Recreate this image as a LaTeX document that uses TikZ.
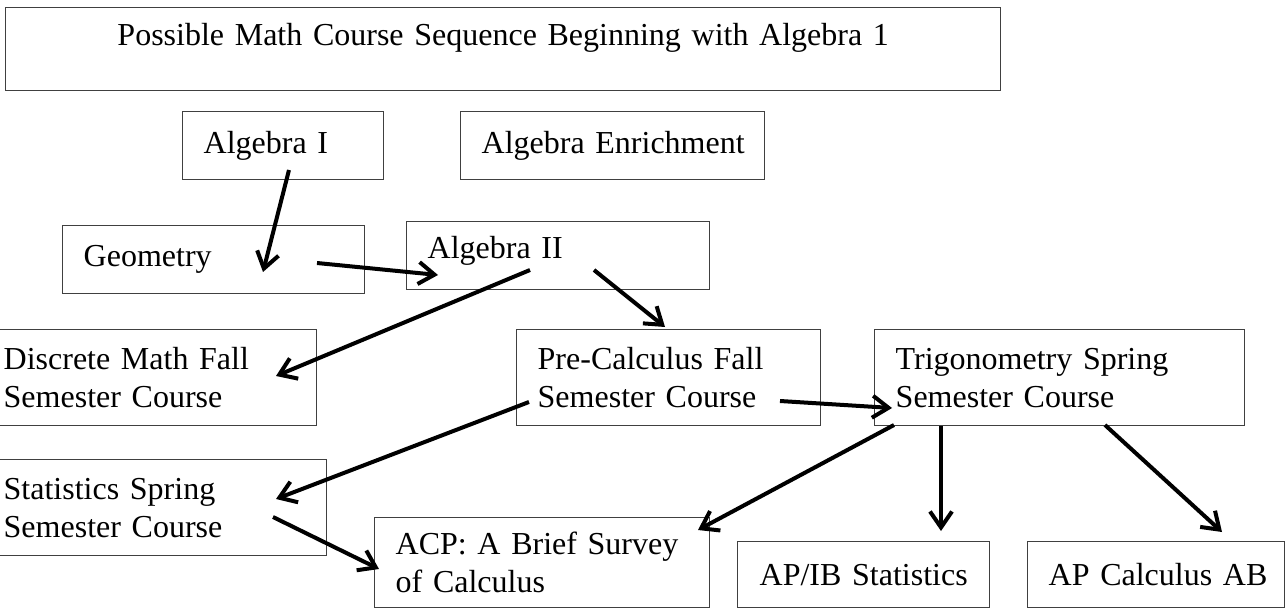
\documentclass[tikz,border=0pt]{standalone}
\usepackage{fontspec}
\setmainfont{Liberation Serif}
\usetikzlibrary{arrows.meta}
\begin{document}
\begin{tikzpicture}[x=0.5pt,y=-0.5pt,
  box/.style={draw=black!75, line width=0.7pt, anchor=north west,
    inner xsep=10.5pt, inner ysep=0pt, align=left,
    font=\fontsize{16}{19}\selectfont},
  cbox/.style={box, align=center},
  flow/.style={line width=2pt,
    -{Straight Barb[length=8pt,width=11pt,line width=2pt]}}]
\useasboundingbox (0,0) rectangle (1285,609);

% course boxes
\node[cbox, text width=476.5pt, minimum height=41.5pt, text depth=14.5pt] (title) at (5,7)
  {Possible Math Course Sequence Beginning with Algebra 1};
\node[box, text width=79.5pt, minimum height=34pt] (alg1) at (182,111) {\mbox{Algebra I}};
\node[box, text width=131pt, minimum height=34pt] (enrich) at (460,111) {\mbox{Algebra Enrichment}};
\node[box, text width=130pt, minimum height=34pt] (geom) at (62,225) {\mbox{Geometry}};
\node[box, text width=130.5pt, minimum height=34pt, text depth=8pt] (alg2) at (406,221) {\mbox{Algebra II}};
\node[box, text width=146pt, minimum height=48pt] (discrete) at (-18,329)
  {Discrete Math Fall\\Semester Course};
\node[box, text width=131pt, minimum height=48pt] (precalc) at (516,329)
  {Pre-Calculus Fall\\Semester Course};
\node[box, text width=164pt, minimum height=48pt] (trig) at (874,329)
  {Trigonometry Spring\\Semester Course};
\node[box, text width=151pt, minimum height=48pt] (stats) at (-18,459)
  {Statistics Spring\\Semester Course};
\node[box, text width=146.5pt, minimum height=45pt] (acp) at (374,517)
  {ACP: A Brief Survey\\of Calculus};
\node[cbox, text width=105pt, minimum height=33pt] (apib) at (737,541) {\mbox{AP/IB Statistics}};
\node[cbox, text width=107.5pt, minimum height=33pt] (apcalc) at (1027,541) {\mbox{AP Calculus AB}};

% arrow end points
\coordinate (alg1-out) at (289,170);   \coordinate (geom-in) at (263,272);
\coordinate (geom-out) at (317,263);   \coordinate (alg2-in) at (438,275);
\coordinate (alg2-outl) at (530,270);  \coordinate (discrete-in) at (276,376);
\coordinate (alg2-outr) at (594,270);  \coordinate (precalc-in) at (665,327);
\coordinate (precalc-outl) at (529,402); \coordinate (stats-in) at (276,499);
\coordinate (stats-out) at (273,517);  \coordinate (acp-in) at (379,569);
\coordinate (precalc-outr) at (780,401); \coordinate (trig-in) at (892,408);
\coordinate (trig-outl) at (894,425);  \coordinate (acp-in2) at (698,530);
\coordinate (trig-outm) at (941,426);  \coordinate (apib-in) at (941,531);
\coordinate (trig-outr) at (1105,425); \coordinate (apcalc-in) at (1222,532);

% sequence arrows
\draw[flow] (alg1-out) -- (geom-in);
\draw[flow] (geom-out) -- (alg2-in);
\draw[flow] (alg2-outl) -- (discrete-in);
\draw[flow] (alg2-outr) -- (precalc-in);
\draw[flow] (precalc-outl) -- (stats-in);
\draw[flow] (stats-out) -- (acp-in);
\draw[flow] (precalc-outr) -- (trig-in);
\draw[flow] (trig-outl) -- (acp-in2);
\draw[flow] (trig-outm) -- (apib-in);
\draw[flow] (trig-outr) -- (apcalc-in);
\end{tikzpicture}
\end{document}
